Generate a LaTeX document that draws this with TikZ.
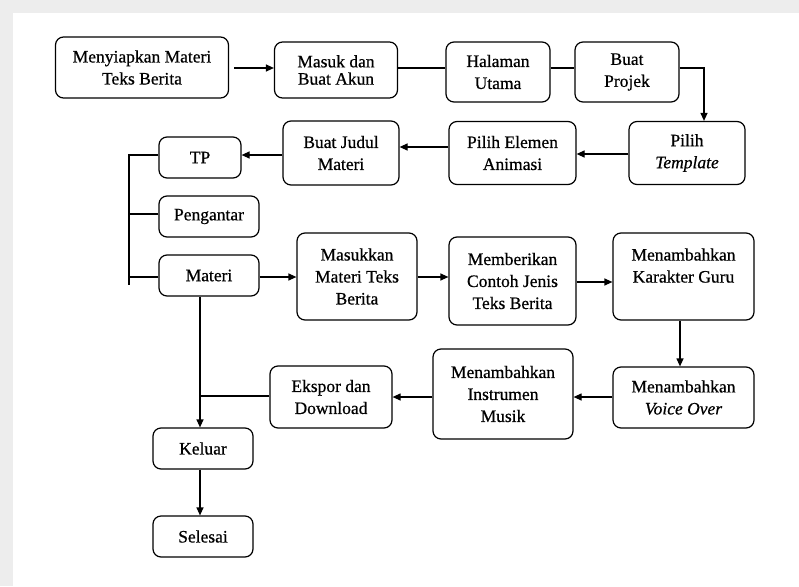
\documentclass[tikz,border=0pt]{standalone}
\usepackage{fontspec}
\setmainfont{Liberation Serif}[BoldFont={Liberation Serif},BoldFeatures={FakeBold=0.6},
  BoldItalicFont={Liberation Serif Italic},BoldItalicFeatures={FakeBold=0.6}]
\usetikzlibrary{arrows.meta}
\begin{document}
\begin{tikzpicture}[x=1pt,y=-1pt,
  box/.style={draw, rounded corners=8pt, line width=1.2pt, align=center, inner sep=0pt,
    font=\fontsize{17.5}{22}\selectfont\bfseries},
  arr/.style={line width=1.2pt, -{Triangle[length=8pt,width=7pt]}},
  ln/.style={line width=1.2pt}]
\useasboundingbox (0,0) rectangle (799,586);
\fill[black!7] (0,0) rectangle (799,586);
\fill[white] (13,13) rectangle (799,586);
% nodes
\node[box, minimum width=173, minimum height=61] (n1) at (142,67.5) {Menyiapkan Materi\\Teks Berita};
\node[box, minimum width=123, minimum height=56] (n2) at (336,70) {\raisebox{-6pt}{\shortstack{Masuk dan\\[2pt]Buat Akun}}};
\node[box, minimum width=104, minimum height=60] (n3) at (498,72) {Halaman\\Utama};
\node[box, minimum width=104, minimum height=60] (n4) at (627,72) {Buat\\Projek};
\node[box, minimum width=116, minimum height=63] (n5) at (687,153) {Pilih\\\textit{Template}};
\node[box, minimum width=127, minimum height=63] (n6) at (512.5,153) {Pilih Elemen\\Animasi};
\node[box, minimum width=116, minimum height=64] (n7) at (341,153) {Buat Judul\\Materi};
\node[box, minimum width=82, minimum height=41] (tp) at (200,157.5) {TP};
\node[box, minimum width=100, minimum height=41] (peng) at (209,216.5) {Pengantar};
\node[box, minimum width=100, minimum height=41] (mat) at (209,275.5) {Materi};
\node[box, minimum width=120, minimum height=87] (n11) at (357,276.5) {Masukkan\\Materi Teks\\Berita};
\node[box, minimum width=127, minimum height=88] (n12) at (512.5,281) {Memberikan\\Contoh Jenis\\Teks Berita};
\node[box, minimum width=141, minimum height=87] (n13) at (683.5,276.5) {Menambahkan\\Karakter Guru\\\mbox{}};
\node[box, minimum width=141, minimum height=61] (n14) at (683.5,397.5) {Menambahkan\\\textit{Voice Over}};
\node[box, minimum width=140, minimum height=90] (n15) at (503,394) {Menambahkan\\Instrumen\\Musik};
\node[box, minimum width=122, minimum height=62] (n16) at (331,397) {Ekspor dan\\Download};
\node[box, minimum width=100, minimum height=41] (kel) at (203,448.5) {Keluar};
\node[box, minimum width=100, minimum height=41] (sel) at (203,536.5) {Selesai};
% helper coordinates
\coordinate (c1) at (704,68);
\coordinate (b1) at (129,157.5);
\coordinate (b2) at (129,285);
\coordinate (j) at (200,396);
% connectors
\draw[arr] (n1.east |- 0,68) ++(5,0) -- (n2.west |- 0,68);
\draw[ln] (n2.east |- 0,68) -- (n3.west |- 0,68);
\draw[ln] (n3.east |- 0,68) -- (n4.west |- 0,68);
\draw[arr] (n4.east |- c1) -- (c1) -- (c1 |- n5.north);
\draw[arr] (n5.west |- 0,154) -- (n6.east |- 0,154);
\draw[arr] (n6.west |- 0,147) -- (n7.east |- 0,147);
\draw[arr] (n7.west |- 0,155) -- (tp.east |- 0,155);
\draw[ln] (tp.west |- 0,155) -- (b1 |- 0,155) -- (b2);
\draw[ln] (peng.west |- 0,214) -- (b1 |- 0,214);
\draw[ln] (mat.west |- 0,277) -- (b1 |- 0,277);
\draw[arr] (mat.east |- 0,277) -- (n11.west |- 0,277);
\draw[arr] (n11.east |- 0,277) -- (n12.west |- 0,277);
\draw[arr] (n12.east |- 0,282) -- (n13.west |- 0,282);
\draw[arr] (n13.south -| 680,0) -- (n14.north -| 680,0);
\draw[arr] (n14.west |- 0,397) -- (n15.east |- 0,397);
\draw[arr] (n15.west |- 0,397) -- (n16.east |- 0,397);
\draw[ln] (n16.west |- j) -- (j);
\draw[arr] (mat.south -| j) -- (kel.north -| j);
\draw[arr] (kel.south -| j) -- (sel.north -| j);
\end{tikzpicture}
\end{document}
